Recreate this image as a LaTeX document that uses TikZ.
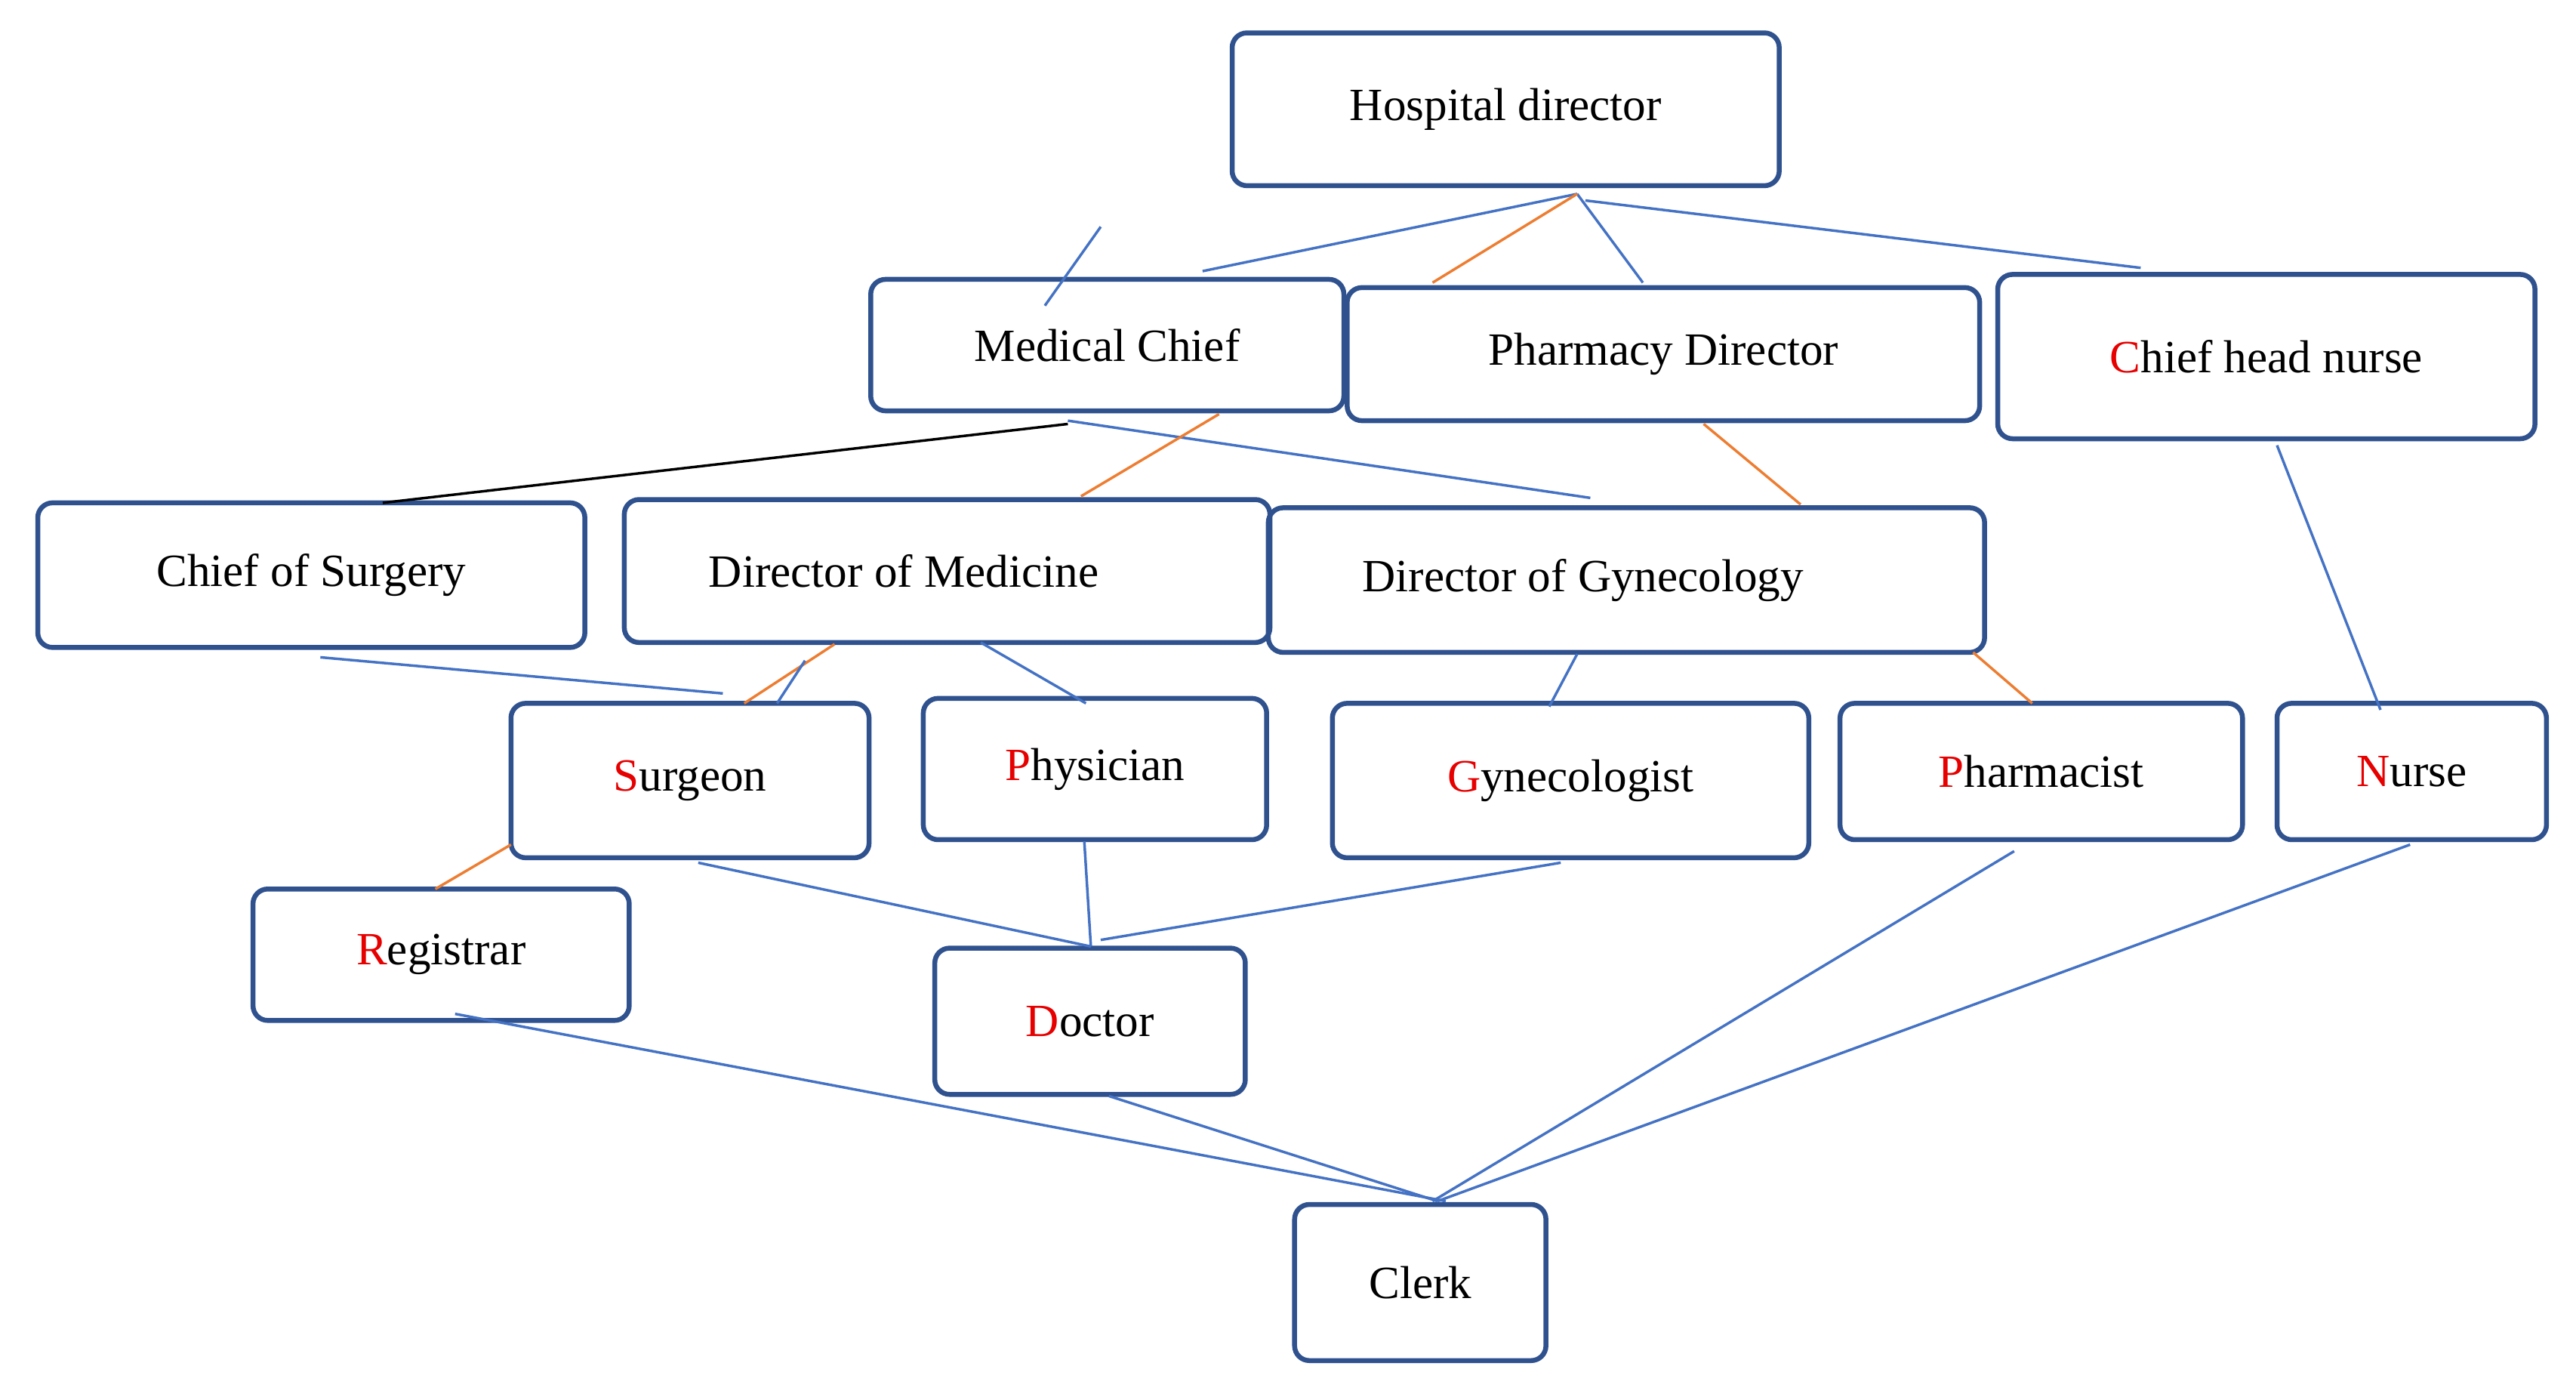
\documentclass[tikz,border=0pt]{standalone}
\usepackage{fontspec}
\setmainfont{Liberation Serif}
\definecolor{bx}{RGB}{47,82,143}
\definecolor{bl}{RGB}{68,114,196}
\definecolor{or}{RGB}{237,125,49}
\definecolor{rd}{RGB}{230,0,0}
\newcommand{\R}[1]{\textcolor{rd}{#1}}
\newcommand{\mybox}[6]{\node[bxs,minimum width={(#4-#2)*0.02cm},minimum height={(#5-#3)*0.02cm}] (#1) at ({(#2+#4)/2},{(#3+#5)/2}) {#6};}
\begin{document}
\begin{tikzpicture}[x=0.02cm,y=-0.02cm,
 bxs/.style={draw=bx,line width=1.7pt,rounded corners=0.18cm,inner sep=0pt,font=\fontsize{16}{18}\selectfont},
 b/.style={draw=bl,line width=0.9pt},
 o/.style={draw=or,line width=0.9pt},
 k/.style={draw=black,line width=0.9pt}]
\useasboundingbox (0,0) rectangle (1568,850);
\mybox{hd}{750}{20}{1083}{113}{Hospital director}
\mybox{mc}{530}{170}{818}{250}{Medical Chief}
\mybox{pd}{820}{175}{1205}{256}{\raisebox{-6pt}{Pharmacy Director}}
\mybox{ch}{1216}{167}{1543}{267}{\R{C}hief head nurse}
\mybox{cs}{23}{306}{356}{394}{Chief of Surgery}
\mybox{dm}{380}{304}{773}{391}{\hspace*{-30pt}Director of Medicine}
\mybox{dg}{772}{309}{1208}{397}{\hspace*{-30pt}Director of Gynecology}
\mybox{su}{311}{428}{529}{522}{\R{S}urgeon}
\mybox{ph}{562}{425}{771}{511}{\R{P}hysician}
\mybox{gy}{811}{428}{1101}{522}{\R{G}ynecologist}
\mybox{pm}{1120}{428}{1365}{511}{\R{P}harmacist}
\mybox{nu}{1386}{428}{1550}{511}{\R{N}urse}
\mybox{re}{154}{541}{383}{621}{\raisebox{-10pt}{\R{R}egistrar}}
\mybox{dc}{569}{577}{758}{666}{\R{D}octor}
\mybox{cl}{788}{733}{941}{828}{Clerk}
\foreach \n/\x/\y in {a/960/118,b/732/165,c/1000/172,d/965/122,e/1303/163,f/872/172,
 g/670/138,h/636/186,i/650/258,j/233/306,l/650/256,m/968/303,n/742/252,p/658/302,
 q/1037/258,r/1096/307,s/1386/271,t/1449/432,u/195/400,v/440/422,w/508/392,z/453/428,
 a2/490/402,b2/473/428,c2/597/391,d2/661/428,e2/960/398,f2/943/430,g2/1201/397,h2/1237/428,
 i2/311/514,j2/265/541,k2/425/525,l2/664/576,m2/660/512,n2/670/572,p2/950/525,
 q2/277/617,r2/880/731,s2/675/667,t2/875/731,u2/1226/518,v2/872/731,w2/1467/514}
 \coordinate (\n) at (\x,\y);
\draw[b] (a)--(b); \draw[b] (a)--(c); \draw[b] (d)--(e); \draw[o] (a)--(f);
\draw[b] (g)--(h); \draw[k] (i)--(j); \draw[b] (l)--(m); \draw[o] (n)--(p);
\draw[o] (q)--(r); \draw[b] (s)--(t); \draw[b] (u)--(v); \draw[o] (w)--(z);
\draw[b] (a2)--(b2); \draw[b] (c2)--(d2); \draw[b] (e2)--(f2); \draw[o] (g2)--(h2);
\draw[o] (i2)--(j2); \draw[b] (k2)--(l2); \draw[b] (m2)--(l2); \draw[b] (n2)--(p2);
\draw[b] (q2)--(r2); \draw[b] (s2)--(t2); \draw[b] (u2)--(v2); \draw[b] (w2)--(t2);
\end{tikzpicture}
\end{document}
